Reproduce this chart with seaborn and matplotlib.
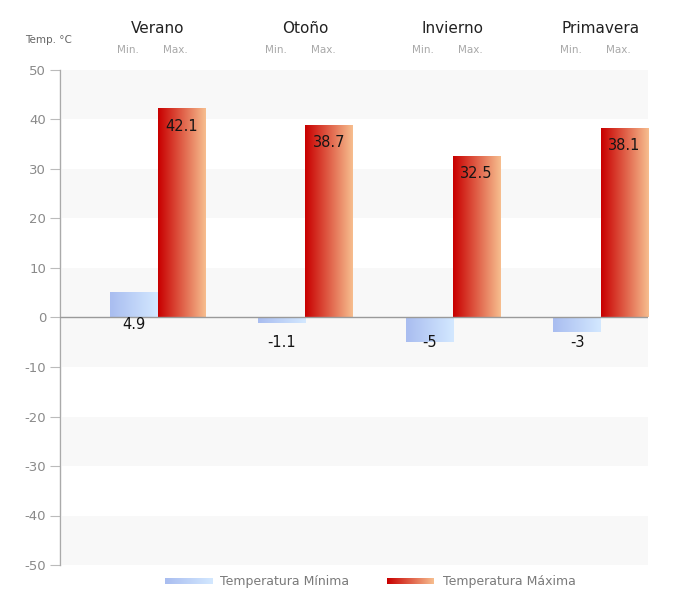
import numpy as np
import pandas as pd
import matplotlib
matplotlib.use("Agg")
import matplotlib.pyplot as plt
from matplotlib.colors import to_rgb
import seaborn as sns

# Seasonal temperature extremes (°C)
seasons = ["Verano", "Otoño", "Invierno", "Primavera"]
temp_min = [4.9, -1.1, -5, -3]
temp_max = [42.1, 38.7, 32.5, 38.1]
series_labels = ["Temperatura Mínima", "Temperatura Máxima"]
sub_labels = ["Min.", "Max."]
y_ticks = [50, 40, 30, 20, 10, 0, -10, -20, -30, -40, -50]

# Gradient endpoints (left -> right) for each series
min_colors = ("#a9bdf0", "#d3e8ff")
max_colors = ("#c80000", "#f7bd8e")

sns.set_style("white")
plt.rcParams["font.family"] = ["DejaVu Sans"]

df = pd.DataFrame({
    "season": seasons * 2,
    "serie": [series_labels[0]] * 4 + [series_labels[1]] * 4,
    "temp": temp_min + temp_max,
})

W, H = 692, 589
fig = plt.figure(figsize=(W / 100, H / 100), dpi=100)
ax_left, ax_right, ax_top, ax_bot = 60, 648, 70, 565
ax = fig.add_axes([ax_left / W, 1 - ax_bot / H,
                   (ax_right - ax_left) / W, (ax_bot - ax_top) / H])

sns.barplot(data=df, x="season", y="temp", hue="serie",
            hue_order=series_labels, order=seasons,
            palette=[min_colors[0], max_colors[0]],
            width=0.64, dodge=True, legend=False, ax=ax, zorder=2)


def gradient_img(c0, c1, n=64):
    a, b = np.array(to_rgb(c0)), np.array(to_rgb(c1))
    t = np.linspace(0, 1, n)[:, None]
    return (a + (b - a) * t)[None, :, :]


# Alternating light bands, symmetric about zero
for lo, hi in [(40, 50), (20, 30), (0, 10), (-10, 0), (-30, -20), (-50, -40)]:
    ax.axhspan(lo, hi, xmin=0.004, xmax=1, color="#f8f8f8", lw=0, zorder=0)

# Replace flat bar fills with horizontal gradients
for cont, cols in zip(ax.containers, [min_colors, max_colors]):
    for bar in cont:
        x0, w = bar.get_x(), bar.get_width()
        y0, h = bar.get_y(), bar.get_height()
        bar.set_facecolor("none")
        bar.set_edgecolor("none")
        ax.imshow(gradient_img(*cols), extent=(x0, x0 + w, y0, y0 + h),
                  aspect="auto", interpolation="bilinear", zorder=2)

# Value labels
lab_kw = dict(textcoords="offset pixels", ha="center", va="center",
              fontsize=10.5, color="#151515", zorder=4)
for bar, v in zip(ax.containers[1], temp_max):
    cx = bar.get_x() + bar.get_width() / 2
    ax.annotate(f"{v:g}", (cx, v), xytext=(0, -17), **lab_kw)
for bar, v in zip(ax.containers[0], temp_min):
    cx = bar.get_x() + bar.get_width() / 2
    dy = -7 if v >= 0 else -25
    ax.annotate(f"{v:g}", (cx, 0), xytext=(0, dy), **lab_kw)

ax.axhline(0, color="#9a9a9a", lw=1, zorder=3)

# Season headers and Min./Max. sub-headers
xt = ax.get_xaxis_transform()
for i, s in enumerate(seasons):
    ax.text(i, 1.083, s, transform=xt, ha="center", va="center",
            fontsize=11, color="#222222")
    for cont, lab in zip(ax.containers, sub_labels):
        bar = cont[i]
        cx = bar.get_x() + bar.get_width() / 2 - 0.04
        ax.text(cx, 1.04, lab, transform=xt, ha="center", va="center",
                fontsize=7.5, color="#a8a8a8")

fig.text(25 / W, 1 - 40 / H, "Temp. °C", ha="left", va="center",
         fontsize=7.5, color="#666666")

# Axes styling
ax.set_xlim(-0.66, 3.32)
ax.set_ylim(-50, 50)
ax.set_yticks(y_ticks)
ax.set_yticklabels([str(t) for t in y_ticks])
ax.set_xticks([])
ax.set_xlabel("")
ax.set_ylabel("")
for side in ["top", "right", "bottom"]:
    ax.spines[side].set_visible(False)
ax.spines["left"].set_color("#aaaaaa")
ax.spines["left"].set_linewidth(1)
ax.tick_params(axis="y", direction="out", length=7, width=0.8, color="#bbbbbb",
               labelcolor="#8a8a8a", labelsize=9.5, pad=3, left=True)
ax.set_facecolor("white")

# Legend with gradient swatches
for (px0, px1, tx), cols, lab in zip([(165, 213, 220), (387, 433, 443)],
                                     [min_colors, max_colors], series_labels):
    sw = fig.add_axes([px0 / W, 1 - 584 / H, (px1 - px0) / W, 6 / H])
    sw.imshow(gradient_img(*cols), aspect="auto", interpolation="bilinear")
    sw.set_axis_off()
    fig.text(tx / W, 1 - 581 / H, lab, ha="left", va="center",
             fontsize=9, color="#7a7a7a")

fig.savefig("out.png", dpi=100)
